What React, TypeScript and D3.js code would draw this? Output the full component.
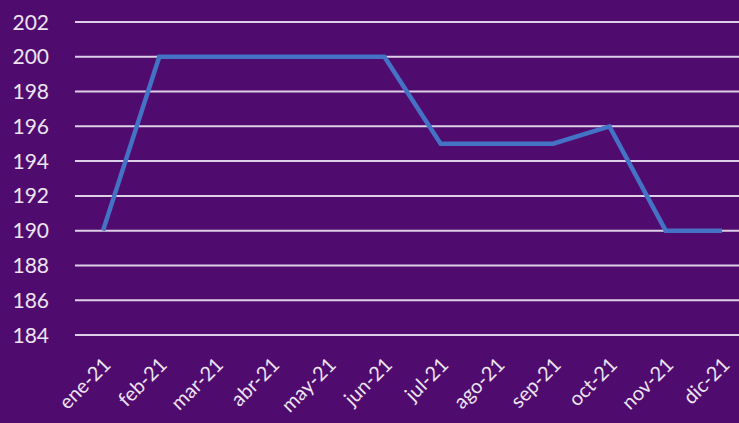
import React, { useEffect, useRef } from "react";
import * as d3 from "d3";

// months and values
const months = ["ene-21", "feb-21", "mar-21", "abr-21", "may-21", "jun-21", "jul-21", "ago-21", "sep-21", "oct-21", "nov-21", "dic-21"];
const values = [190, 200, 200, 200, 200, 200, 195, 195, 195, 196, 190, 190];
const yTicks = [184, 186, 188, 190, 192, 194, 196, 198, 200, 202];

const W = 739;
const H = 423;

export default function App() {
  const ref = useRef<SVGSVGElement>(null);

  useEffect(() => {
    const svg = d3.select(ref.current);
    svg.selectAll("*").remove();

    svg.append("rect").attr("width", W).attr("height", H).attr("fill", "#500b6f");

    const x = d3.scalePoint().domain(months).range([103, 722]);
    const y = d3.scaleLinear().domain([184, 202]).range([335, 22]);

    // horizontal grid
    svg.append("g")
      .selectAll("line")
      .data(yTicks)
      .join("line")
      .attr("x1", 75)
      .attr("x2", W)
      .attr("y1", d => y(d))
      .attr("y2", d => y(d))
      .attr("stroke", "#ddd0e6")
      .attr("stroke-width", 2);

    // y labels
    svg.append("g")
      .selectAll("text")
      .data(yTicks)
      .join("text")
      .attr("x", 49)
      .attr("y", d => y(d))
      .attr("dy", "0.36em")
      .attr("text-anchor", "end")
      .attr("font-family", "Lato, sans-serif")
      .attr("font-size", 21)
      .attr("fill", "#ece4f2")
      .text(d => d);

    // x labels, rotated (kept inside the bottom edge)
    svg.append("g")
      .selectAll("text")
      .data(months)
      .join("text")
      .attr("transform", d => `translate(${x(d)! + 9},${366}) rotate(-45)`)
      .attr("text-anchor", "end")
      .attr("font-family", "Lato, sans-serif")
      .attr("font-size", 20)
      .attr("fill", "#ece4f2")
      .text(d => d);

    const line = d3.line<number>()
      .x((_, i) => x(months[i])!)
      .y(d => y(d));

    svg.append("path")
      .datum(values)
      .attr("d", line)
      .attr("fill", "none")
      .attr("stroke", "#4472c4")
      .attr("stroke-width", 4.5)
      .attr("stroke-linejoin", "miter");
  }, []);

  return (
    <svg ref={ref} width={W} height={H} style={{ position: "absolute", left: 0, top: 0 }} />
  );
}
